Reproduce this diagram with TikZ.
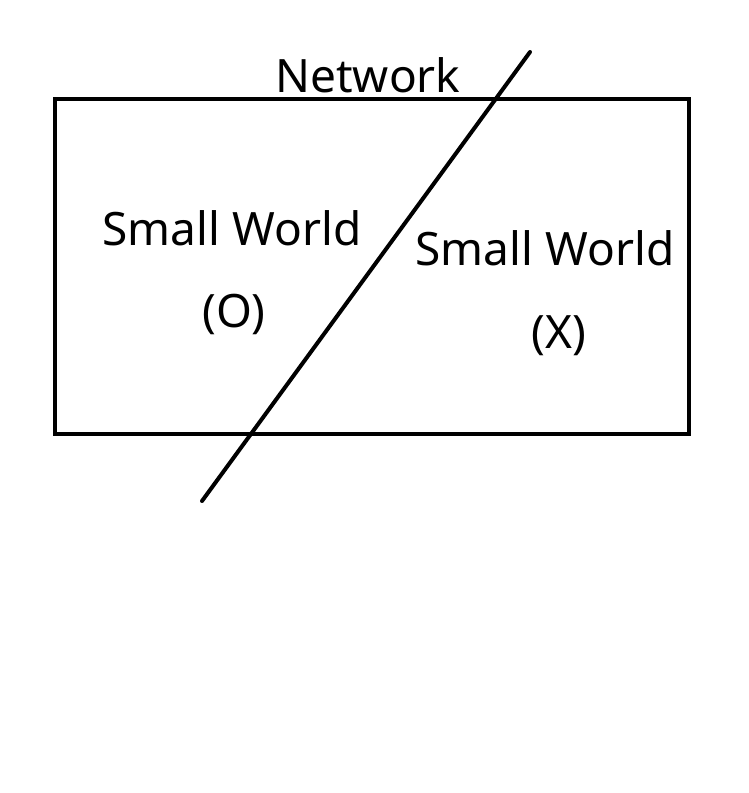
\documentclass[tikz,border=0pt]{standalone}
\usepackage{fontspec}
\setmainfont{Noto Sans}
\begin{document}
\begin{tikzpicture}[x=1pt,y=-1pt]
	\useasboundingbox (0,0) rectangle (749,793);
	\tikzset{label/.style={font=\fontsize{46}{54}\selectfont,inner sep=0pt}}
	\draw[line width=4pt] (55,99) rectangle (689,434);
	\draw[line width=4pt,line cap=round] (530,52) -- (202,501);

	\node[label] (network) at (368,75) {Network};
	\node[label] (smallo) at (232,228) {Small World};
	\node[label] (o) at (234,314) {(O)};
	\node[label] (smallx) at (545,248) {Small World};
	\node[label] (x) at (559,336) {(X)};
\end{tikzpicture}
\end{document}
